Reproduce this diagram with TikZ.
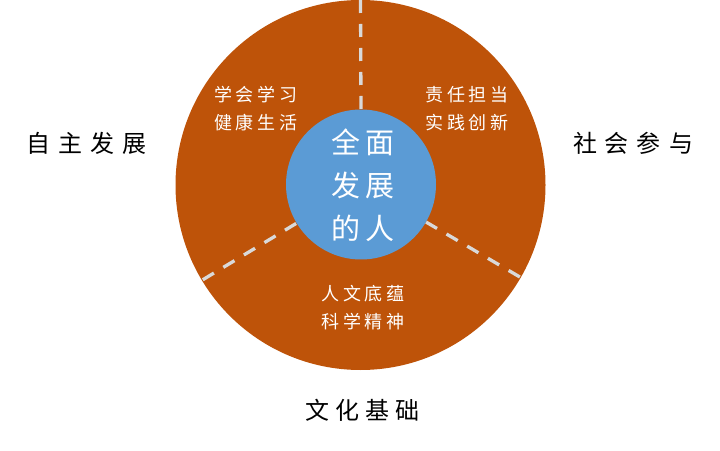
\documentclass[tikz,border=0pt]{standalone}
\usepackage{fontspec}
\usetikzlibrary{calc}
\newfontfamily\cjk{Noto Sans CJK SC}
\definecolor{ring}{HTML}{BE5309}
\definecolor{core}{HTML}{5B9BD5}
\definecolor{dashgray}{HTML}{D9D9D9}
\begin{document}
\begin{tikzpicture}[x=1pt,y=1pt,
  divider/.style={draw=dashgray,line width=3.3pt,dash pattern=on 13pt off 11pt},
  outer/.style={font=\cjk\fontsize{24}{24}\selectfont,text=black,inner sep=0pt},
  inner/.style={font=\cjk\fontsize{18}{28}\selectfont,text=white,align=center,inner sep=0pt},
  coretext/.style={font=\cjk\fontsize{29}{43}\selectfont,text=white,align=center,inner sep=0pt}]
\useasboundingbox (0,0) rectangle (720,450);
\coordinate (c) at (360.5,265);
\fill[ring] (c) circle (185);
\node[circle,fill=core,minimum size=150pt,inner sep=0pt] (core) at (361,265.5) {};
\coordinate (top) at ($(c)+(90:185)$);
\coordinate (ll) at ($(c)+(211:184)$);
\coordinate (lr) at ($(c)+(330:184)$);
\draw[divider] (top) -- (core.90);
\draw[divider] (ll) -- (core.211);
\draw[divider] (lr) -- (core.330);
\node[coretext] (mid) at (363,265) {全\kern5pt 面\\发\kern5pt 展\\的\kern5pt 人};
\node[inner] (a) at (256,341) {学\kern4pt 会\kern4pt 学\kern4pt 习\\健\kern4pt 康\kern4pt 生\kern4pt 活};
\node[inner] (b) at (467,341) {责\kern4pt 任\kern4pt 担\kern4pt 当\\实\kern4pt 践\kern4pt 创\kern4pt 新};
\node[inner] (d) at (363,142) {人\kern4pt 文\kern4pt 底\kern4pt 蕴\\科\kern4pt 学\kern4pt 精\kern4pt 神};
\node[outer] (l) at (87,307) {自\kern8pt 主\kern8pt 发\kern8pt 展};
\node[outer] (r) at (633,307) {社\kern8pt 会\kern8pt 参\kern8pt 与};
\node[outer] (bt) at (362,40) {文\kern6pt 化\kern6pt 基\kern6pt 础};
\end{tikzpicture}
\end{document}
